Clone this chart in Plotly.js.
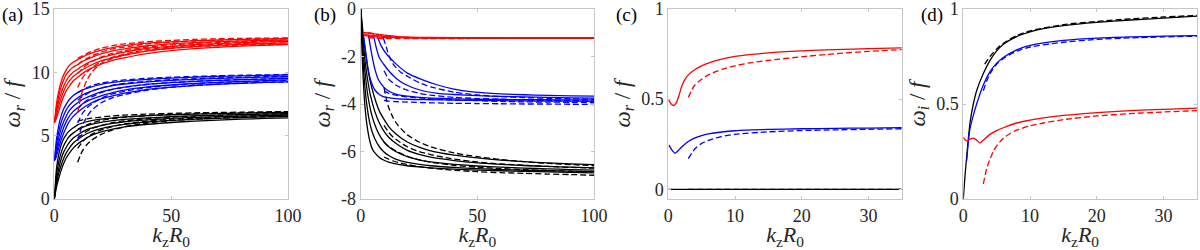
<!DOCTYPE html>
<html>
<head>
<meta charset="utf-8">
<script src="https://cdn.plot.ly/plotly-3.0.1.min.js"></script>
<style>
html,body{margin:0;padding:0;background:#fff;}
#chart{width:1200px;height:250px;}
#chart svg text, #chart svg tspan{font-family:"Liberation Serif","Times New Roman",Times,serif !important;}
</style>
</head>
<body>
<div id="chart"></div>
<script>
// ---------- Panel (a): omega_r / f, upper family ----------
const kA = [0,1,2,3,4,5,6,8,10,12,15,20,25,30,40,50,60,70,80,90,100];
const kAd = [10,11,12,14,16,20,25,30,40,50,60,70,80,90,100];
const aRedSolid = [
  [6,7.6,8.6,9.3,9.8,10.15,10.45,10.8,11.0,11.2,11.45,11.75,11.95,12.1,12.3,12.4,12.5,12.55,12.6,12.63,12.65],
  [6,7.3,8.2,8.9,9.4,9.8,10.05,10.4,10.6,10.85,11.1,11.45,11.7,11.85,12.1,12.25,12.35,12.42,12.48,12.52,12.55],
  [6,7.0,7.8,8.4,8.9,9.3,9.6,10.0,10.25,10.5,10.8,11.15,11.4,11.6,11.9,12.05,12.18,12.27,12.34,12.4,12.45],
  [6,6.7,7.4,8.0,8.5,8.9,9.2,9.65,9.95,10.2,10.5,10.9,11.15,11.35,11.7,11.9,12.03,12.13,12.2,12.27,12.32],
  [6,6.4,7.0,7.6,8.1,8.5,8.8,9.3,9.6,9.9,10.25,10.65,10.95,11.15,11.5,11.72,11.87,11.98,12.07,12.14,12.2]
];
const aRedDash = [
  [6.8,7.8,8.5,9.4,10.0,10.7,11.1,11.35,11.7,11.9,12.02,12.1,12.15,12.18,12.2],
  [8.8,9.2,9.55,10.0,10.35,10.85,11.2,11.45,11.8,12.0,12.12,12.2,12.26,12.3,12.33],
  [9.9,10.1,10.3,10.6,10.85,11.2,11.5,11.7,12.0,12.17,12.28,12.36,12.42,12.46,12.5],
  [10.6,10.75,10.9,11.1,11.3,11.6,11.85,12.0,12.25,12.38,12.47,12.54,12.58,12.62,12.65],
  [11.1,11.2,11.3,11.5,11.65,11.9,12.1,12.25,12.42,12.52,12.6,12.65,12.68,12.7,12.72]
];
const aBlueSolid = [
  [3,4.8,5.9,6.6,7.1,7.45,7.75,8.15,8.4,8.6,8.8,9.05,9.2,9.3,9.45,9.55,9.62,9.68,9.72,9.76,9.8],
  [3,4.4,5.4,6.1,6.6,7.0,7.3,7.7,8.0,8.2,8.45,8.75,8.95,9.08,9.25,9.37,9.45,9.52,9.57,9.62,9.65],
  [3,4.0,4.9,5.6,6.1,6.5,6.85,7.3,7.6,7.85,8.1,8.45,8.68,8.84,9.05,9.18,9.28,9.36,9.42,9.47,9.52],
  [3,3.7,4.5,5.1,5.65,6.05,6.4,6.9,7.2,7.5,7.8,8.15,8.4,8.6,8.85,9.0,9.12,9.21,9.28,9.34,9.4],
  [3,3.4,4.1,4.7,5.2,5.6,6.0,6.5,6.85,7.15,7.5,7.9,8.15,8.35,8.65,8.83,8.96,9.06,9.14,9.2,9.25]
];
const aBlueDash = [
  [4.6,5.3,5.8,6.5,7.0,7.6,8.0,8.25,8.6,8.82,8.97,9.07,9.14,9.2,9.24],
  [6.0,6.4,6.75,7.2,7.5,7.95,8.3,8.5,8.8,8.98,9.1,9.2,9.26,9.31,9.35],
  [7.1,7.3,7.5,7.8,8.05,8.4,8.65,8.82,9.06,9.2,9.3,9.37,9.43,9.48,9.52],
  [7.8,7.95,8.1,8.3,8.5,8.75,8.98,9.12,9.3,9.42,9.5,9.56,9.61,9.65,9.68],
  [8.4,8.5,8.6,8.8,8.95,9.15,9.3,9.4,9.53,9.62,9.68,9.73,9.77,9.8,9.83]
];
const aBlackSolid = [
  [0,2.5,3.6,4.3,4.75,5.05,5.3,5.6,5.85,6.0,6.15,6.3,6.4,6.48,6.58,6.65,6.7,6.74,6.78,6.81,6.84],
  [0,2.0,3.0,3.7,4.2,4.55,4.85,5.2,5.45,5.65,5.85,6.05,6.18,6.28,6.4,6.5,6.57,6.62,6.66,6.7,6.73],
  [0,1.6,2.5,3.2,3.7,4.05,4.35,4.8,5.05,5.3,5.55,5.8,5.97,6.1,6.25,6.36,6.44,6.5,6.55,6.59,6.63],
  [0,1.3,2.1,2.7,3.2,3.6,3.9,4.4,4.7,4.95,5.25,5.55,5.75,5.9,6.08,6.2,6.3,6.37,6.43,6.48,6.52],
  [0,1.0,1.7,2.3,2.8,3.2,3.5,4.0,4.35,4.6,4.95,5.3,5.52,5.7,5.9,6.04,6.15,6.23,6.3,6.36,6.4]
];
const aBlackDash = [
  [2.9,3.4,3.8,4.3,4.65,5.1,5.45,5.7,6.0,6.18,6.3,6.38,6.44,6.49,6.53],
  [4.0,4.25,4.5,4.85,5.1,5.45,5.72,5.92,6.15,6.3,6.4,6.48,6.54,6.58,6.62],
  [4.8,4.95,5.1,5.35,5.55,5.8,6.02,6.17,6.35,6.47,6.55,6.61,6.66,6.7,6.73],
  [5.5,5.6,5.7,5.85,6.0,6.2,6.35,6.45,6.58,6.66,6.72,6.76,6.8,6.83,6.85],
  [6.15,6.2,6.25,6.32,6.38,6.47,6.56,6.62,6.7,6.76,6.8,6.83,6.86,6.88,6.9]
];

// ---------- Panel (b): omega_r / f, lower family ----------
const kB = [0,1,2,3,4,5,6,8,10,12,15,20,25,30,40,50,60,70,80,90,100];
const kBd = [10,11,12,14,16,20,25,30,40,50,60,70,80,90,100];
const bBlackSolid = [
  [0,-2.8,-4.3,-5.1,-5.6,-5.9,-6.05,-6.25,-6.37,-6.45,-6.52,-6.6,-6.65,-6.69,-6.74,-6.78,-6.81,-6.84,-6.86,-6.88,-6.9],
  [0,-2.2,-3.5,-4.3,-4.85,-5.2,-5.45,-5.8,-6.02,-6.17,-6.32,-6.46,-6.54,-6.6,-6.67,-6.72,-6.76,-6.79,-6.81,-6.83,-6.85],
  [0,-1.7,-2.8,-3.6,-4.15,-4.55,-4.85,-5.3,-5.6,-5.8,-6.0,-6.22,-6.35,-6.44,-6.54,-6.61,-6.66,-6.7,-6.73,-6.76,-6.78],
  [0,-1.3,-2.3,-3.0,-3.55,-3.95,-4.3,-4.8,-5.15,-5.4,-5.65,-5.95,-6.12,-6.24,-6.38,-6.48,-6.54,-6.59,-6.63,-6.66,-6.69],
  [0,-1.0,-1.8,-2.5,-3.0,-3.4,-3.75,-4.3,-4.65,-4.95,-5.25,-5.6,-5.82,-5.97,-6.15,-6.27,-6.36,-6.43,-6.48,-6.52,-6.55]
];
const bBlackDash = [
  [-3.3,-3.8,-4.15,-4.6,-4.9,-5.3,-5.6,-5.8,-6.06,-6.22,-6.34,-6.43,-6.5,-6.55,-6.6],
  [-4.9,-5.05,-5.2,-5.4,-5.55,-5.8,-6.0,-6.13,-6.32,-6.44,-6.52,-6.58,-6.63,-6.67,-6.7],
  [-5.6,-5.7,-5.78,-5.92,-6.03,-6.2,-6.35,-6.45,-6.58,-6.66,-6.72,-6.76,-6.8,-6.83,-6.86],
  [-6.23,-6.28,-6.32,-6.4,-6.46,-6.55,-6.64,-6.7,-6.79,-6.85,-6.89,-6.92,-6.95,-6.97,-7.0]
];
const bBlueSolidK = [
  [1.1,2,3,4,5,6,8,10,15,20,30,40,50,60,70,80,90,100],
  [3.3,4,5,6,7.5,10,12,15,20,25,30,40,50,60,70,80,90,100],
  [5.4,6,7,8,10.4,12,15,19,25,33,40,50,60,70,80,90,100],
  [6.8,7.5,8.5,10,11.8,15,20,26,33,40,49,60,70,80,90,100]
];
const bBlueSolidW = [
  [-1.08,-1.7,-2.4,-2.9,-3.2,-3.4,-3.6,-3.7,-3.77,-3.8,-3.82,-3.84,-3.85,-3.86,-3.87,-3.88,-3.88,-3.89],
  [-1.08,-1.5,-2.05,-2.5,-2.96,-3.3,-3.45,-3.58,-3.67,-3.72,-3.75,-3.78,-3.8,-3.81,-3.82,-3.82,-3.83,-3.83],
  [-1.08,-1.35,-1.75,-2.05,-2.4,-2.6,-2.9,-3.17,-3.4,-3.55,-3.6,-3.65,-3.68,-3.7,-3.72,-3.74,-3.75],
  [-1.08,-1.25,-1.5,-1.75,-1.98,-2.3,-2.7,-2.96,-3.2,-3.37,-3.5,-3.57,-3.61,-3.64,-3.66,-3.67]
];
const bBlueDashK = [
  [9.7,11,12,14,17,21,25,30,40,50,60,70,80,90,100],
  [10,12,15,20,25,30,40,50,60,70,80,90,100],
  [10,12,15,20,30,40,50,60,70,80,90,100],
  [10,12,15,20,30,40,50,60,70,80,90,100]
];
const bBlueDashW = [
  [-1.22,-1.6,-1.95,-2.33,-2.65,-2.89,-3.1,-3.28,-3.5,-3.62,-3.69,-3.73,-3.76,-3.78,-3.8],
  [-2.6,-2.95,-3.2,-3.42,-3.55,-3.63,-3.72,-3.77,-3.8,-3.83,-3.85,-3.86,-3.87],
  [-3.45,-3.55,-3.63,-3.7,-3.78,-3.83,-3.86,-3.89,-3.91,-3.92,-3.93,-3.94],
  [-3.85,-3.88,-3.9,-3.92,-3.95,-3.97,-3.98,-3.99,-4.0,-4.0,-4.01,-4.02]
];
const kBRed = [1,2,4,6,8,10,15,20,30,50,100];
const bRedSolid = [
  [-1.0,-1.0,-1.02,-1.05,-1.08,-1.1,-1.15,-1.18,-1.2,-1.21,-1.22],
  [-1.05,-1.08,-1.1,-1.12,-1.13,-1.15,-1.18,-1.2,-1.21,-1.22,-1.22],
  [-1.1,-1.12,-1.15,-1.17,-1.18,-1.19,-1.2,-1.21,-1.22,-1.22,-1.23]
];
const kBRedDash = [3,5,8,10,15,20,30,50,100];
const bRedDash = [
  [-1.0,-1.03,-1.08,-1.12,-1.17,-1.2,-1.22,-1.23,-1.23],
  [-1.2,-1.22,-1.24,-1.25,-1.25,-1.25,-1.25,-1.24,-1.23]
];

// ---------- Panel (c): omega_r / f ----------
const cRedK = [0,0.4,0.8,1.2,1.6,2,2.5,3,4,5,6,8,10,15,20,25,30,35];
const cRedW = [0.5,0.475,0.465,0.48,0.52,0.57,0.61,0.635,0.665,0.685,0.7,0.722,0.737,0.757,0.768,0.775,0.78,0.785];
const cRedDashK = [3,3.5,4,5,6,8,10,12,15,20,25,30,35];
const cRedDashW = [0.51,0.55,0.58,0.61,0.635,0.665,0.685,0.7,0.715,0.735,0.752,0.765,0.775];
const cBlueK = [0.1,0.5,1,1.5,2,3,4,5,6,8,10,15,20,25,30,35];
const cBlueW = [0.245,0.22,0.2,0.215,0.235,0.265,0.285,0.298,0.307,0.318,0.325,0.332,0.336,0.338,0.34,0.342];
const cBlueDashK = [3,3.5,4,5,6,8,10,15,20,25,30,35];
const cBlueDashW = [0.17,0.2,0.225,0.255,0.272,0.293,0.305,0.319,0.326,0.33,0.333,0.336];
const cBlackK = [0,35];
const cBlackW = [0,0];
const cBlackDashK = [3,35];
const cBlackDashW = [0,0];

// ---------- Panel (d): omega_i / f ----------
const dBlackK = [0,0.25,0.5,1,1.5,2,3,4,5,6,8,10,12,15,20,25,30,35];
const dBlackW = [0,0.12,0.22,0.4,0.5,0.57,0.66,0.73,0.78,0.815,0.855,0.88,0.897,0.913,0.93,0.942,0.952,0.962];
const dBlackDashK = [3.2,4,5,6,8,10,15,20,25,30,35];
const dBlackDashW = [0.71,0.75,0.79,0.82,0.86,0.885,0.918,0.935,0.948,0.958,0.966];
const dBlueK = [0.5,0.75,1,1.5,2,3,4,5,6,8,10,12,15,20,25,30,35];
const dBlueW = [0.2,0.3,0.37,0.44,0.5,0.6,0.67,0.715,0.745,0.785,0.808,0.822,0.835,0.847,0.853,0.857,0.86];
const dBlueDashK = [3,3.5,4,5,6,8,10,15,20,25,30,35];
const dBlueDashW = [0.57,0.62,0.66,0.71,0.74,0.778,0.8,0.825,0.84,0.848,0.853,0.857];
const dRedK = [0,0.3,0.6,1,1.5,2,2.5,3,4,5,6,8,10,12,15,20,25,30,35];
const dRedW = [0.325,0.31,0.305,0.315,0.32,0.31,0.295,0.31,0.34,0.36,0.375,0.4,0.415,0.427,0.44,0.455,0.465,0.472,0.478];
const dRedDashK = [3,3.5,4,4.5,5,6,7,8,10,12,15,20,25,30,35];
const dRedDashW = [0.08,0.16,0.21,0.25,0.28,0.32,0.345,0.362,0.385,0.4,0.418,0.437,0.449,0.458,0.465];

// ---------- Labels ----------
const panelLabels = ['(a)','(b)','(c)','(d)'];
const xTitle = '<i>k</i><sub>z</sub><i>R</i><sub>0</sub>';
const yTitles = ['<i>ω<sub>r</sub></i> / <i>f</i>','<i>ω<sub>r</sub></i> / <i>f</i>','<i>ω<sub>r</sub></i> / <i>f</i>','<i>ω<sub>i</sub></i> / <i>f</i>'];
const yTickVals = [[0,5,10,15],[0,-2,-4,-6,-8],[0,0.5,1],[0,0.5,1]];
const yTickText = [['0','5','10','15'],['0','-2','-4','-6','-8'],['0','0.5','1'],['0','0.5','1']];
const xTickVals = [[0,50,100],[0,50,100],[0,10,20,30],[0,10,20,30]];

// ---------- Build traces ----------
const RED = '#ff0000', BLUE = '#0000ff', BLACK = '#000000';
const traces = [];
function add(ax, x, y, color, dashed){
  traces.push({
    type:'scatter', mode:'lines', x:x, y:y,
    xaxis: ax==1?'x':'x'+ax, yaxis: ax==1?'y':'y'+ax,
    line:{color:color, width:1.3, dash: dashed?'6px,3px':'solid', shape:'spline', smoothing:0.6},
    hoverinfo:'skip', showlegend:false
  });
}
aBlackSolid.forEach(w=>add(1,kA,w,BLACK,false));
aBlackDash.forEach(w=>add(1,kAd,w,BLACK,true));
aBlueSolid.forEach(w=>add(1,kA,w,BLUE,false));
aBlueDash.forEach(w=>add(1,kAd,w,BLUE,true));
aRedSolid.forEach(w=>add(1,kA,w,RED,false));
aRedDash.forEach(w=>add(1,kAd,w,RED,true));
bBlackSolid.forEach(w=>add(2,kB,w,BLACK,false));
bBlackDash.forEach(w=>add(2,kBd,w,BLACK,true));
bBlueSolidK.forEach((k,i)=>add(2,k,bBlueSolidW[i],BLUE,false));
bBlueDashK.forEach((k,i)=>add(2,k,bBlueDashW[i],BLUE,true));
bRedSolid.forEach(w=>add(2,kBRed,w,RED,false));
bRedDash.forEach(w=>add(2,kBRedDash,w,RED,true));
add(3,cBlackK,cBlackW,BLACK,false);
add(3,cBlackDashK,cBlackDashW,BLACK,true);
add(3,cBlueK,cBlueW,BLUE,false);
add(3,cBlueDashK,cBlueDashW,BLUE,true);
add(3,cRedK,cRedW,RED,false);
add(3,cRedDashK,cRedDashW,RED,true);
add(4,dBlackK,dBlackW,BLACK,false);
add(4,dBlackDashK,dBlackDashW,BLACK,true);
add(4,dBlueK,dBlueW,BLUE,false);
add(4,dBlueDashK,dBlueDashW,BLUE,true);
add(4,dRedK,dRedW,RED,false);
add(4,dRedDashK,dRedDashW,RED,true);

// ---------- Layout ----------
const W = 1200, H = 250;
const FONT = 'Liberation Serif';
const xDomains = [[54.3/W,288/W],[360.7/W,594/W],[668.3/W,901.8/W],[963.3/W,1197/W]];
const yDomain = [1-199/H, 1-9/H];
const xRanges = [[0,100],[0,100],[0,35],[0,35]];
const yRanges = [[0,15],[-8,0],[-0.0535,1],[0,1]];
const labelX = [0, 312, 614, 919];

const layout = {
  width:W, height:H, margin:{l:0,r:0,t:0,b:0},
  paper_bgcolor:'#ffffff', plot_bgcolor:'#ffffff',
  font:{family:FONT, size:18, color:'#262626'},
  showlegend:false, annotations:[]
};
for(let i=0;i<4;i++){
  const n = i==0?'':String(i+1);
  layout['xaxis'+n] = {
    showgrid:false, zeroline:false, showline:true, mirror:'ticks',
    linecolor:'#c6c6c6', linewidth:1, ticks:'inside', ticklen:3, tickcolor:'#c6c6c6',
    ticklabeloverflow:'allow', tickfont:{family:FONT, size:18, color:'#262626'},
    domain:xDomains[i], range:xRanges[i], anchor:'y'+n,
    tickmode:'array', tickvals:xTickVals[i], ticktext:xTickVals[i].map(String),
    title:{text:xTitle, font:{family:FONT, size:22, color:'#262626'}, standoff:5}
  };
  layout['yaxis'+n] = {
    showgrid:false, zeroline:false, showline:true, mirror:'ticks',
    linecolor:'#c6c6c6', linewidth:1, ticks:'inside', ticklen:3, tickcolor:'#c6c6c6',
    ticklabeloverflow:'allow', tickfont:{family:FONT, size:18, color:'#262626'},
    domain:yDomain, range:yRanges[i], anchor:'x'+n,
    tickmode:'array', tickvals:yTickVals[i], ticktext:yTickText[i],
    title:{text:yTitles[i], font:{family:FONT, size:23, color:'#262626'}, standoff:4}
  };
  layout.annotations.push({
    xref:'paper', yref:'paper', x:labelX[i]/W, y:1-15/H, xanchor:'left', yanchor:'middle',
    text:panelLabels[i], showarrow:false, font:{family:FONT, size:19, color:'#000000'}
  });
}
Plotly.newPlot('chart', traces, layout, {staticPlot:true});
</script>
</body>
</html>
